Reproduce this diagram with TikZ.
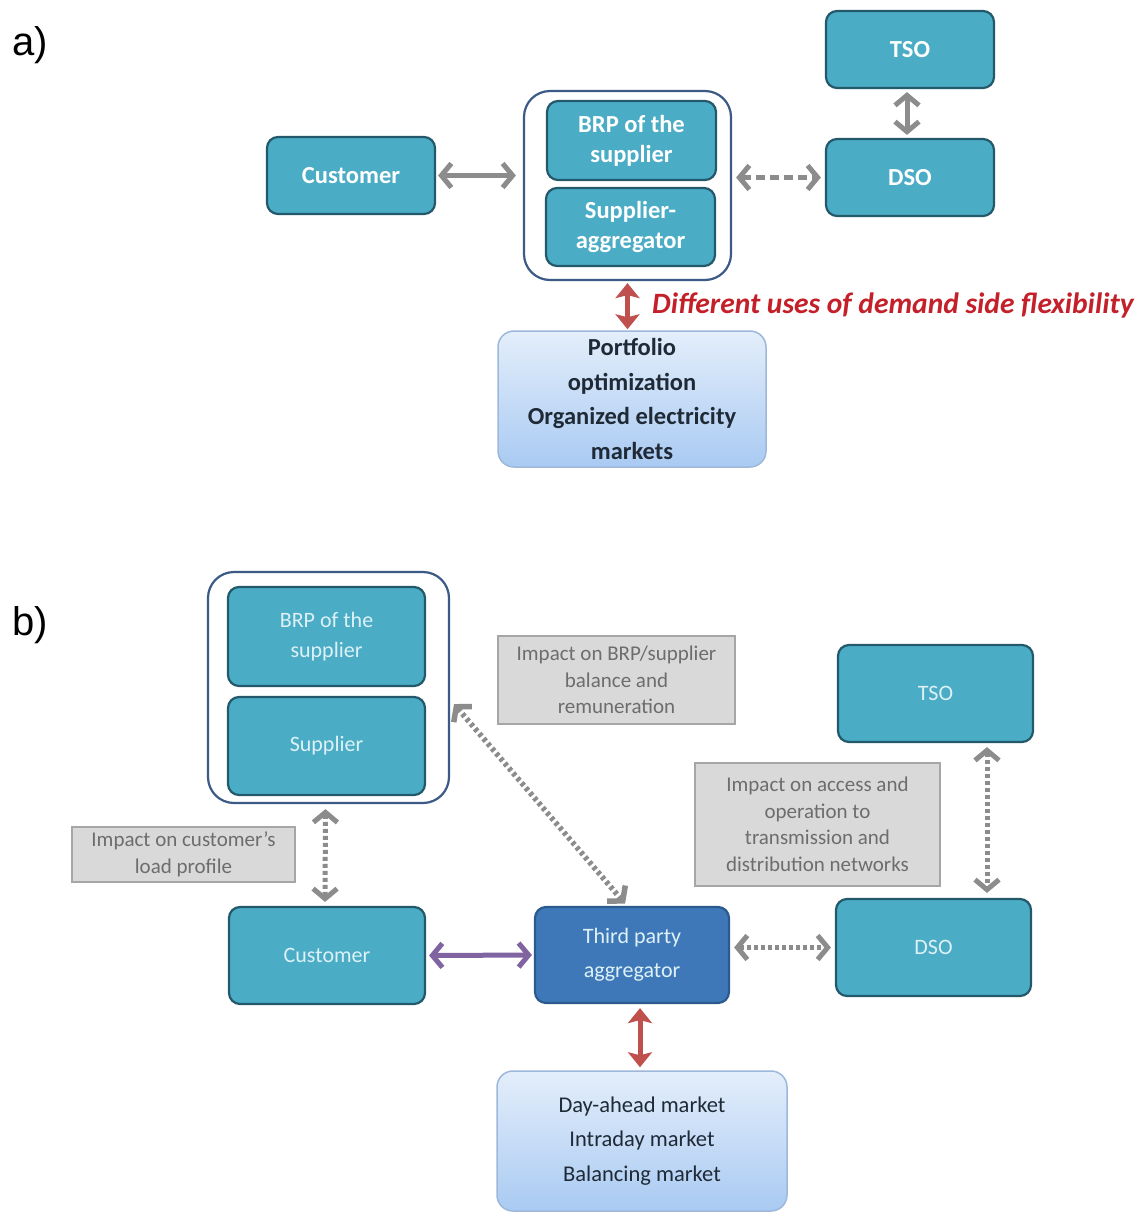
\documentclass[tikz,border=0pt]{standalone}
\usepackage{fontspec}
\setmainfont{Carlito}
\newfontfamily\panelfont{Liberation Sans}
\usetikzlibrary{arrows.meta,calc}

\definecolor{tealfill}{HTML}{4BACC6}
\definecolor{tealedge}{HTML}{24596B}
\definecolor{groupedge}{HTML}{3B5A86}
\definecolor{aggfill}{HTML}{3F78B9}
\definecolor{aggedge}{HTML}{2B5A8E}
\definecolor{arrowgrey}{HTML}{8C8C8C}
\definecolor{linkpurple}{HTML}{8064A2}
\definecolor{linkred}{HTML}{C0504D}
\definecolor{flexred}{HTML}{C4202A}
\definecolor{notefill}{HTML}{D9D9D9}
\definecolor{noteedge}{HTML}{A6A6A6}
\definecolor{notetext}{HTML}{6D6D6D}
\definecolor{marktop}{HTML}{E4EEFB}
\definecolor{markbot}{HTML}{A9CAF2}
\definecolor{markedge}{HTML}{9DB8DA}
\definecolor{marktext}{HTML}{1F2A36}
\definecolor{palecyan}{HTML}{DDF1F6}

\begin{document}
\begin{tikzpicture}[x=1pt,y=-1pt,
  tbox/.style={draw=tealedge, fill=tealfill, line width=2.2pt, rounded corners=11pt,
    align=center, inner sep=0pt},
  aggbox/.style={tbox, draw=aggedge, fill=aggfill},
  grpbox/.style={draw=groupedge, fill=white, line width=2.2pt, rounded corners=26pt, inner sep=0pt},
  boldtxt/.style={text=white, font=\fontsize{24.5}{30}\selectfont\bfseries},
  thintxt/.style={text=palecyan, font=\fontsize{22}{30}\selectfont},
  markbox/.style={draw=markedge, line width=1.5pt, rounded corners=16pt, top color=marktop,
    bottom color=markbot, align=center, inner sep=0pt, text=marktext},
  notebox/.style={draw=noteedge, fill=notefill, line width=1.5pt, align=center, inner sep=0pt,
    text=notetext, font=\fontsize{21}{26.5}\selectfont},
  garrow/.style={draw=arrowgrey, line width=5pt, {Straight Barb[length=10pt,width=24pt]}-{Straight Barb[length=10pt,width=24pt]}},
  dotarrow/.style={garrow, dash pattern=on 4pt off 3pt},
  rarrow/.style={draw=linkred, line width=5pt, {Stealth[length=15pt,width=24pt,inset=3pt]}-{Stealth[length=15pt,width=24pt,inset=3pt]}},
  parrow/.style={draw=linkpurple, line width=5pt, {Straight Barb[length=10pt,width=24pt]}-{Straight Barb[length=10pt,width=24pt]}},
  panel/.style={font=\panelfont\fontsize{40}{44}\selectfont, anchor=west}
]
\path[fill=white] (0,0) rectangle (1146,1213);
\useasboundingbox (0,0) rectangle (1146,1213);

% ---------- panel a) ----------
\node[panel] (la) at (9,45) {a)};

\node[grpbox, minimum width=207pt, minimum height=189pt] (grpA) at (627.5,185.5) {};
\node[tbox, boldtxt, minimum width=169pt, minimum height=79pt] (brpA) at (631.5,140.5) {BRP of the\\supplier};
\node[tbox, boldtxt, minimum width=169pt, minimum height=78pt] (saggA) at (630.5,227) {Supplier-\\aggregator};
\node[tbox, boldtxt, minimum width=168pt, minimum height=77pt] (custA) at (351,175.5) {Customer};
\node[tbox, boldtxt, minimum width=168pt, minimum height=77pt] (tsoA) at (910,49.5) {TSO};
\node[tbox, boldtxt, minimum width=168pt, minimum height=77pt] (dsoA) at (910,177.5) {DSO};
\node[markbox, minimum width=268pt, minimum height=136pt,
      font=\fontsize{24.5}{34.5}\selectfont\bfseries] (portA) at (632,399)
      {Portfolio\\optimization\\Organized electricity\\markets};
\node[anchor=west, text=flexred, font=\fontsize{29.5}{30}\selectfont\bfseries\itshape, inner sep=0pt]
      (flexA) at (652,305) {Different uses of demand side flexibility};

\draw[garrow, shorten <=2pt, shorten >=7pt] (custA.east) -- (grpA.west |- custA.east);
\draw[garrow, dashed, dash pattern=on 9pt off 5pt, shorten <=4pt, shorten >=4pt]
      (grpA.east |- dsoA.west) -- (dsoA.west);
\draw[garrow, shorten <=3pt, shorten >=3pt] ([xshift=-3pt]tsoA.south) -- ([xshift=-3pt]dsoA.north);
\draw[rarrow, shorten <=2pt, shorten >=1pt] (grpA.south) -- (grpA.south |- portA.north);

% ---------- panel b) ----------
\node[panel] (lb) at (9,625) {b)};

\node[grpbox, minimum width=241pt, minimum height=231pt] (grpB) at (328.5,687.5) {};
\node[tbox, thintxt, minimum width=197pt, minimum height=99pt] (brpB) at (326.5,636.5) {BRP of the\\supplier};
\node[tbox, thintxt, minimum width=197pt, minimum height=98pt] (supB) at (326.5,746) {Supplier};
\node[notebox, minimum width=237pt, minimum height=88pt] (noteBal) at (616.5,680)
      {Impact on BRP/supplier\\balance and\\remuneration};
\node[tbox, thintxt, minimum width=195pt, minimum height=97pt] (tsoB) at (935.5,693.5) {TSO};
\node[notebox, minimum width=245pt, minimum height=123pt] (noteNet) at (817.5,824.5)
      {Impact on access and\\operation to\\transmission and\\distribution networks};
\node[notebox, minimum width=223pt, minimum height=55pt] (noteLoad) at (183.5,854.5)
      {Impact on customer's\\load profile};
\node[tbox, thintxt, minimum width=196pt, minimum height=97pt] (custB) at (327,955.5) {Customer};
\node[aggbox, thintxt, minimum width=194pt, minimum height=96pt,
      font=\fontsize{22}{34}\selectfont] (aggB) at (632,955) {Third party\\aggregator};
\node[tbox, thintxt, minimum width=195pt, minimum height=97pt] (dsoB) at (933.5,947.5) {DSO};
\node[markbox, minimum width=290pt, minimum height=140pt,
      font=\fontsize{22.5}{34.5}\selectfont] (markB) at (642,1141)
      {Day-ahead market\\Intraday market\\Balancing market};

\draw[dotarrow, shorten <=5pt, shorten >=4pt] ([xshift=-3pt]grpB.south) -- ([xshift=-2pt]custB.north);
\draw[dotarrow, line width=5.5pt, dash pattern=on 3.5pt off 3pt, shorten <=6pt, shorten >=3pt]
      ($(grpB.east)+(0,12)$) -- ($(aggB.north)+(-5,0)$);
\draw[parrow, shorten <=3pt, shorten >=2pt] (custB.east) -- (aggB.west);
\draw[dotarrow, shorten <=4pt, shorten >=4pt] (aggB.east |- dsoB.west) -- (dsoB.west);
\draw[dotarrow, shorten <=4pt, shorten >=5pt] ([xshift=51.5pt]tsoB.south) -- ([xshift=53.5pt]dsoB.north);
\draw[rarrow, shorten <=4pt, shorten >=3pt] ([xshift=8pt]aggB.south) -- ([xshift=-2pt]markB.north);
\end{tikzpicture}
\end{document}
